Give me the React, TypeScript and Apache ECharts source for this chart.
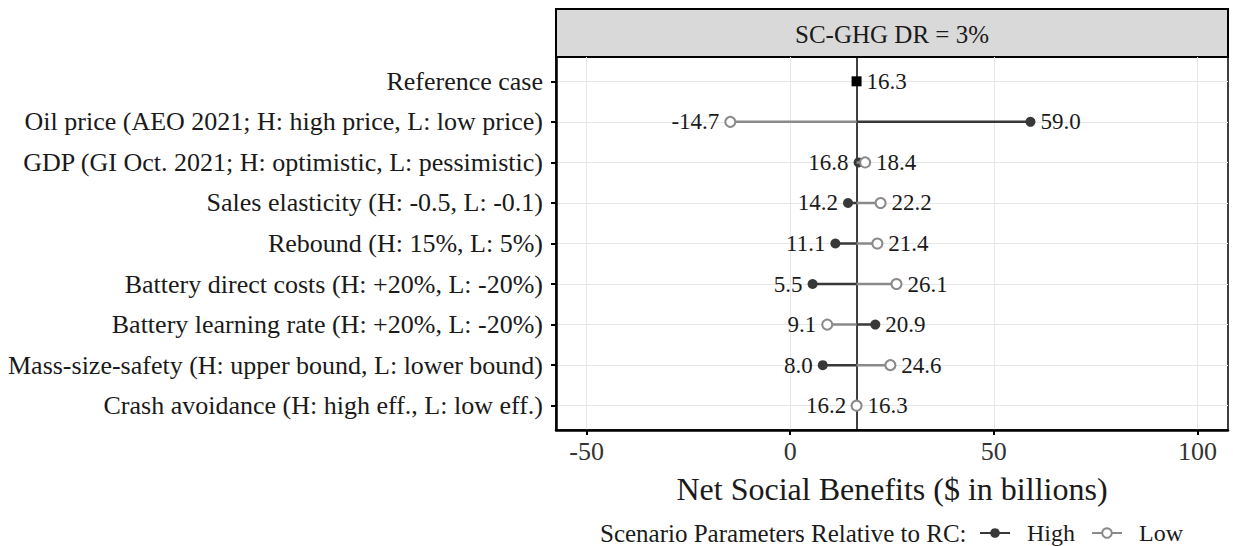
import React, { useEffect, useRef } from "react";
import * as echarts from "echarts";

const CATEGORIES = [
  "Reference case",
  "Oil price (AEO 2021; H: high price, L: low price)",
  "GDP (GI Oct. 2021; H: optimistic, L: pessimistic)",
  "Sales elasticity (H: -0.5, L: -0.1)",
  "Rebound (H: 15%, L: 5%)",
  "Battery direct costs (H: +20%, L: -20%)",
  "Battery learning rate (H: +20%, L: -20%)",
  "Mass-size-safety (H: upper bound, L: lower bound)",
  "Crash avoidance (H: high eff., L: low eff.)",
];
const REF_VALUE = 16.3;
const HIGH = [59.0, 16.8, 14.2, 11.1, 5.5, 20.9, 8.0, 16.2];
const LOW = [-14.7, 18.4, 22.2, 21.4, 26.1, 9.1, 24.6, 16.3];
const X_TICKS = [-50, 0, 50, 100];
const X_MIN = -57.5;
const X_MAX = 107.5;
const PANEL_TITLE = "SC-GHG DR = 3%";
const X_TITLE = "Net Social Benefits ($ in billions)";
const LEGEND_TITLE = "Scenario Parameters Relative to RC:";

const FONT = "Liberation Serif";
const TEXT = "#1a1a1a";
const HIGH_COLOR = "#383838";
const LOW_COLOR = "#8a8a8a";
const VALUE_FONT = 23;

export default function App() {
  const ref = useRef<HTMLDivElement>(null);
  useEffect(() => {
    if (!ref.current) return;
    const chart = echarts.init(ref.current, undefined, { renderer: "svg" });
    const rows = CATEGORIES.map((_, i) => i + 1);

    const series: any[] = [];
    series.push({
      type: "line",
      name: "grid",
      data: [],
      silent: true,
      z: 0,
      markLine: {
        silent: true,
        z: 0,
        symbol: ["none", "none"],
        label: { show: false },
        lineStyle: { color: "#e6e6e6", width: 1, type: "solid" },
        data: [
          ...rows.map((r) => ({ yAxis: r })),
          ...X_TICKS.map((v) => ({ xAxis: v })),
        ],
      },
    });
    series.push({
      type: "line",
      name: "Reference",
      data: [
        {
          value: [REF_VALUE, 1],
          label: {
            show: true,
            position: "right",
            distance: 5,
            formatter: REF_VALUE.toFixed(1),
          },
        },
      ],
      symbol: "rect",
      symbolSize: 10,
      itemStyle: { color: "#000" },
      z: 4,
      label: { fontFamily: FONT, fontSize: VALUE_FONT, color: TEXT },
      markLine: {
        silent: true,
        z: 1,
        symbol: ["none", "none"],
        label: { show: false },
        lineStyle: { color: "#000", width: 1.5, type: "solid" },
        data: [{ xAxis: REF_VALUE }],
      },
    });
    HIGH.forEach((h, i) => {
      const l = LOW[i];
      const y = i + 2;
      series.push({
        type: "line",
        name: "High",
        z: 3,
        symbol: "circle",
        symbolSize: 10,
        lineStyle: { color: HIGH_COLOR, width: 2.5 },
        itemStyle: { color: HIGH_COLOR },
        label: { fontFamily: FONT, fontSize: VALUE_FONT, color: TEXT },
        data: [
          { value: [REF_VALUE, y], symbol: "none" },
          {
            value: [h, y],
            label: {
              show: true,
              position: h < l ? "left" : "right",
              distance: 5,
              formatter: h.toFixed(1),
            },
          },
        ],
      });
    });
    LOW.forEach((l, i) => {
      const h = HIGH[i];
      const y = i + 2;
      series.push({
        type: "line",
        name: "Low",
        z: 4,
        symbol: "emptyCircle",
        symbolSize: 10,
        lineStyle: { color: LOW_COLOR, width: 2.5 },
        itemStyle: { color: LOW_COLOR, borderWidth: 1.5 },
        label: { fontFamily: FONT, fontSize: VALUE_FONT, color: TEXT },
        data: [
          { value: [REF_VALUE, y], symbol: "none" },
          {
            value: [l, y],
            label: {
              show: true,
              position: l <= h ? "left" : "right",
              distance: 5,
              formatter: l.toFixed(1),
            },
          },
        ],
      });
    });

    chart.setOption({
      animation: false,
      grid: {
        left: 556,
        top: 57,
        width: 672,
        height: 373,
        show: true,
        borderColor: "#000",
        borderWidth: 1.5,
        backgroundColor: "#fff",
      },
      xAxis: {
        type: "value",
        min: X_MIN,
        max: X_MAX,
        name: X_TITLE,
        nameLocation: "middle",
        nameGap: 43,
        nameTextStyle: { fontFamily: FONT, fontSize: 32, color: TEXT },
        axisLine: { show: true, onZero: false, lineStyle: { color: "#000", width: 2.5 } },
        axisTick: { show: true, length: 5, customValues: X_TICKS, lineStyle: { color: "#000", width: 2 } },
        axisLabel: {
          customValues: X_TICKS,
          fontFamily: FONT,
          fontSize: 26,
          color: "#333",
          margin: 8,
        },
        splitLine: { show: false },
      },
      yAxis: {
        type: "value",
        inverse: true,
        min: 0.4,
        max: 9.6,
        axisLine: { show: true, onZero: false, lineStyle: { color: "#000", width: 2.5 } },
        axisTick: { show: true, length: 5, customValues: rows, lineStyle: { color: "#000", width: 2 } },
        axisLabel: {
          customValues: rows,
          formatter: (v: number) => CATEGORIES[Math.round(v) - 1] ?? "",
          fontFamily: FONT,
          fontSize: 26,
          color: TEXT,
          margin: 13,
        },
        splitLine: { show: false },
      },
      legend: {
        data: ["High", "Low"],
        left: 979,
        top: 521,
        padding: 0,
        itemWidth: 30,
        itemHeight: 12,
        itemGap: 16,
        formatter: (n: string) => "  " + n,
        textStyle: { fontFamily: FONT, fontSize: 24, lineHeight: 24, color: TEXT },
      },
      graphic: [
        {
          type: "rect",
          shape: { x: 556, y: 9, width: 672, height: 48 },
          style: { fill: "#d9d9d9", stroke: "#000", lineWidth: 2 },
        },
        {
          type: "text",
          x: 892,
          y: 34,
          style: {
            text: PANEL_TITLE,
            fontFamily: FONT,
            fontSize: 25,
            fill: TEXT,
            align: "center",
            verticalAlign: "middle",
          },
        },
        {
          type: "text",
          x: 600,
          y: 533,
          style: {
            text: LEGEND_TITLE,
            fontFamily: FONT,
            fontSize: 25,
            fill: TEXT,
            align: "left",
            verticalAlign: "middle",
          },
        },
      ],
      series,
    });
    return () => chart.dispose();
  }, []);
  return (
    <div
      ref={ref}
      style={{ position: "fixed", left: 0, top: 0, width: 1233, height: 546, background: "#fff" }}
    />
  );
}
